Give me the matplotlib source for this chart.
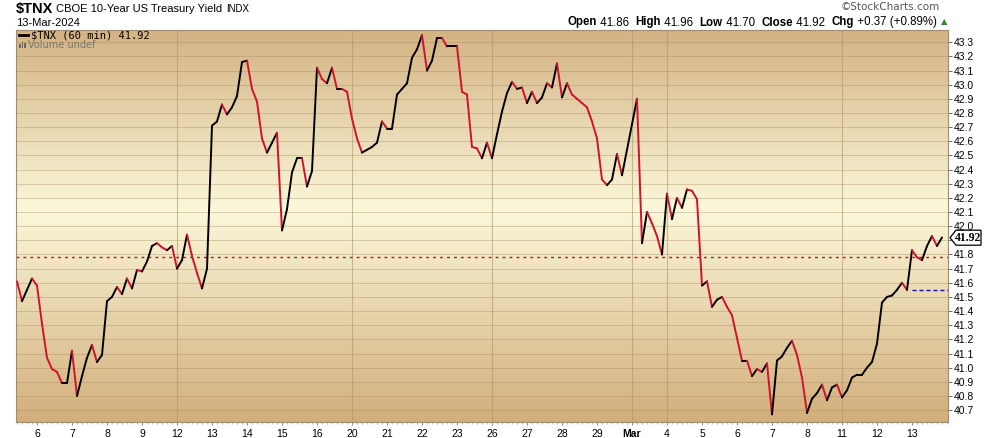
import numpy as np
import matplotlib
matplotlib.use('Agg')
import matplotlib.pyplot as plt
from matplotlib.collections import LineCollection
from matplotlib.colors import LinearSegmentedColormap
from matplotlib.patches import Polygon, Rectangle

# ======================== data ================================

W, H = 990, 438          # output size in pixels
first_bar = 3            # first 60 min bar shown (bar 0 = Feb 5 open)
bars_per_day = 7

# hourly closes of $TNX
closes = [
    41.61, 41.47, 41.55, 41.63, 41.58, 41.31, 41.07, 40.99, 40.97, 40.89,
    40.89, 41.12, 40.80, 40.94, 41.07, 41.16, 41.04, 41.09, 41.47, 41.50,
    41.57, 41.52, 41.63, 41.56, 41.69, 41.68, 41.75, 41.86, 41.88, 41.85,
    41.83, 41.86, 41.70, 41.76, 41.94, 41.79, 41.67, 41.56, 41.70, 42.71,
    42.74, 42.86, 42.79, 42.84, 42.92, 43.16, 43.17, 42.97, 42.88, 42.62,
    42.52, 42.59, 42.66, 41.97, 42.12, 42.38, 42.48, 42.48, 42.28, 42.39,
    43.12, 43.04, 43.01, 43.12, 42.97, 42.97, 42.95, 42.76, 42.62, 42.52,
    42.54, 42.56, 42.59, 42.74, 42.69, 42.69, 42.93, 42.97, 43.01, 43.19,
    43.25, 43.35, 43.10, 43.17, 43.33, 43.33, 43.27, 43.27, 43.27, 42.95,
    42.93, 42.56, 42.55, 42.48, 42.59, 42.48, 42.65, 42.81, 42.94, 43.02,
    42.97, 42.98, 42.87, 42.95, 42.87, 42.91, 43.01, 42.98, 43.15, 42.91,
    43.01, 42.93, 42.90, 42.87, 42.84, 42.74, 42.62, 42.33, 42.29, 42.33,
    42.51, 42.36, 42.54, 42.72, 42.90, 41.88, 42.10, 42.02, 41.93, 41.80,
    42.23, 42.05, 42.20, 42.13, 42.26, 42.25, 42.19, 41.58, 41.61, 41.43,
    41.48, 41.50, 41.43, 41.37, 41.21, 41.05, 41.05, 40.94, 40.99, 40.97,
    41.03, 40.67, 41.05, 41.08, 41.14, 41.19, 41.09, 40.93, 40.68, 40.78,
    40.82, 40.88, 40.77, 40.86, 40.88, 40.79, 40.84, 40.93, 40.95, 40.95,
    41.00, 41.04, 41.17, 41.46, 41.50, 41.51, 41.55, 41.60, 41.55, 41.83,
    41.78, 41.76, 41.86, 41.93, 41.86, 41.92,
]

day_labels = ['6', '7', '8', '9', '12', '13', '14', '15', '16', '20', '21', '22', '23',
              '26', '27', '28', '29', 'Mar', '4', '5', '6', '7', '8', '11', '12', '13']
grid_days = [5, 10, 14, 18, 19, 24]      # week / month starts (day index)

ref_line = 41.78         # red dotted
prev_close = 41.55       # blue dashed on the last day
last_value = 41.92

y_ticks = np.round(np.arange(40.7, 43.31, 0.1), 1)

header_left = [(r'\$TNX', 'bold', 10.5, 3), ('CBOE 10-Year US Treasury Yield', 'normal', 8, 4),
               ('INDX', 'normal', 7, 0)]
header_right = [('Open', 'bold'), (' 41.86  ', 'normal'), ('High', 'bold'), (' 41.96  ', 'normal'),
                ('Low', 'bold'), (' 41.70  ', 'normal'), ('Close', 'bold'), (' 41.92  ', 'normal'),
                ('Chg', 'bold'), (' +0.37 (+0.89%) ', 'normal')]

# ======================== figure ================================

plt.rcParams['font.family'] = ['Liberation Sans', 'DejaVu Sans']

fig = plt.figure(figsize=(W / 100, H / 100), dpi=100)
fig.patch.set_facecolor('white')
renderer = fig.canvas.get_renderer()

def fx(px):
    return px / W

def fy(py):
    return 1 - py / H

ax = fig.add_axes([fx(16), fy(422), fx(948 - 16), (422 - 29.5) / H])

bars = np.arange(first_bar, first_bar + len(closes))
xmin, xmax = 2.8, 189.2
ymin, ymax = 40.616, 43.39
ax.set_xlim(xmin, xmax)
ax.set_ylim(ymin, ymax)

# background gradient, tan - cream - tan
bg = LinearSegmentedColormap.from_list('bg', [(0, '#D2AE7B'), (0.54, '#FBF8DA'), (1, '#D3B282')])
ax.imshow(np.linspace(0, 1, 256).reshape(-1, 1), cmap=bg, aspect='auto', origin='lower',
          extent=(xmin, xmax, ymin, ymax), zorder=0, interpolation='bilinear')

for v in y_ticks:
    ax.axhline(v, color='#A88A5C', lw=0.6, alpha=0.45, zorder=1)
for d in grid_days:
    ax.axvline(d * bars_per_day, color='#B0956A', lw=0.8, alpha=0.6, zorder=1)

ax.axhline(ref_line, color='#CC1010', lw=1.0, ls=(0, (2, 3)), zorder=2)
ax.plot([26 * bars_per_day, xmax], [prev_close, prev_close],
        color='#1010B0', lw=1.0, ls=(0, (3, 2)), zorder=2)

# line coloured by direction
pts = np.column_stack([bars, closes])
segs = np.stack([pts[:-1], pts[1:]], axis=1)
cols = ['black' if closes[i + 1] >= closes[i] else '#D0122E' for i in range(len(closes) - 1)]
ax.add_collection(LineCollection(segs, colors=cols, linewidths=1.4, capstyle='round',
                                 joinstyle='round', zorder=3))

# axes
ax.yaxis.tick_right()
ax.set_yticks(y_ticks)
ax.set_yticklabels(['' if abs(v - 41.9) < 1e-6 else f'{v:.1f}' for v in y_ticks])
ax.set_xticks([(i + 1) * bars_per_day for i in range(len(day_labels))])
ax.set_xticklabels(day_labels)
for lbl in ax.get_xticklabels():
    if lbl.get_text() == 'Mar':
        lbl.set_fontweight('bold')
ax.set_xticks(np.arange(3, 190), minor=True)
ax.tick_params(axis='y', labelsize=7.5, length=3, width=0.6, color='#555555', pad=1)
ax.tick_params(axis='x', which='major', labelsize=7.5, length=2, width=0.6, color='#777777', pad=3)
ax.tick_params(axis='x', which='minor', length=1.5, width=0.5, color='#999999')
for s in ax.spines.values():
    s.set_color('#A08C6C')
    s.set_linewidth(0.8)

# last value box
tip_y = 42.7 + (43.3 - last_value) * 141.3
box = [(950, tip_y), (956, tip_y - 7.5), (981, tip_y - 7.5), (981, tip_y + 7.5), (956, tip_y + 7.5)]
fig.patches.append(Polygon([(fx(a), fy(b)) for a, b in box], closed=True, fc='white', ec='black',
                           lw=0.9, transform=fig.transFigure, figure=fig))
fig.text(fx(968.5), fy(tip_y), f'{last_value:.2f}', ha='center', va='center', fontsize=8.5,
         fontweight='bold', family='Liberation Serif')

# header, left
x = 16
for txt, wt, sz, gap in header_left:
    t = fig.text(fx(x), fy(9.5), txt, fontsize=sz, fontweight=wt, va='center')
    x = t.get_window_extent(renderer).x1 + gap
fig.text(fx(16), fy(22.5), '13-Mar-2024', fontsize=8, va='center')
fig.text(fx(940), fy(7), '\u00a9StockCharts.com', fontsize=7.5, color='#555555', ha='right',
         va='center', family='DejaVu Sans')

# header, right: lay out then shift so it ends at the triangle
pieces = []
x = 0
for txt, wt in header_right:
    t = fig.text(fx(x), fy(22.5), txt, fontsize=8.3, fontweight=wt, va='center')
    bb = t.get_window_extent(renderer)
    pieces.append((t, x))
    x += bb.width
shift = 940 - x
for t, x0 in pieces:
    t.set_x(fx(x0 + shift))
fig.text(fx(941), fy(22), '\u25b2', fontsize=6, color='#2E8B2E', va='center', family='DejaVu Sans')

# legend inside the plot
fig.lines.append(plt.Line2D([fx(19), fx(28)], [fy(34.5), fy(34.5)], color='black', lw=2,
                            transform=fig.transFigure, figure=fig))
fig.text(fx(31), fy(35), r'\$TNX (60 min) 41.92', fontsize=7.5, family='DejaVu Sans Mono',
         va='center')
for i, hgt in enumerate([4, 6, 5]):
    fig.patches.append(Rectangle((fx(19 + i * 2.5), fy(48)), 1.6 / W, hgt / H, fc='#666666',
                                 ec='none', transform=fig.transFigure, figure=fig))
fig.text(fx(28), fy(45), 'Volume undef', fontsize=7, color='#777777', va='center',
         family='DejaVu Sans')

fig.savefig('out.png', dpi=100)
